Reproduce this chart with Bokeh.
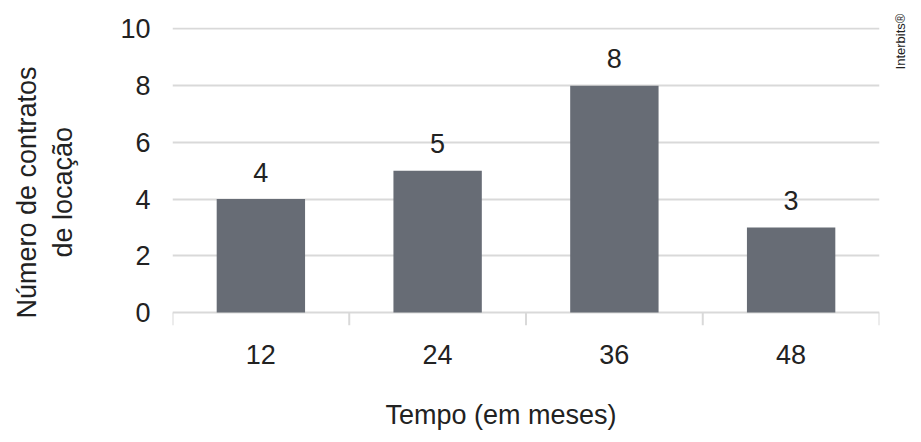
import math
from bokeh.plotting import figure
from bokeh.models import (ColumnDataSource, Range1d, FixedTicker, Title, Label,
                          CDSView, IndexFilter)
from bokeh.transform import dodge
from bokeh.core.properties import value
from bokeh.embed import file_html
from bokeh.resources import INLINE

categories = ["12", "24", "36", "48"]
contracts = [4, 5, 8, 3]
y_ticks = [0, 2, 4, 6, 8, 10]
x_title = "Tempo (em meses)"
y_title_lines = ["Número de contratos", "de locação"]
credit = "Interbits®"

FONT = "Liberation Sans"
TXT = "#222222"
GRID = "#d9d9d9"
BAR = "#676c75"

src = ColumnDataSource(dict(cat=categories, val=contracts,
                            lab=[str(v) for v in contracts],
                            base=[0] * len(categories)))

# frame extends 13 px below zero to hold the boundary tick marks
p = figure(x_range=categories, y_range=Range1d(-0.46, 10.05), width=913, height=434,
           output_backend="svg", toolbar_location=None,
           min_border_left=172, min_border_right=34, min_border_top=27,
           min_border_bottom=109)
p.outline_line_color = None
p.background_fill_color = "#ffffff"
p.border_fill_color = "#ffffff"

p.vbar(x="cat", top="val", bottom="base", width=0.5, source=src,
       fill_color=BAR, line_color=None)
p.text(x="cat", y="val", text="lab", source=src, y_offset=-27,
       text_align="center", text_baseline="alphabetic",
       text_font=value(FONT), text_font_size="27px", text_color=TXT)

# boundary ticks of the x axis
p.ray(x=dodge("cat", -0.5, range=p.x_range), y="base", source=src,
      length=13, length_units="screen", angle=-math.pi / 2,
      line_color=GRID, line_width=2)
p.ray(x=dodge("cat", 0.5, range=p.x_range), y="base", source=src,
      view=CDSView(filter=IndexFilter([len(categories) - 1])),
      length=13, length_units="screen", angle=-math.pi / 2,
      line_color=GRID, line_width=2)

# y axis
ya = p.yaxis[0]
ya.ticker = FixedTicker(ticks=y_ticks)
ya.axis_line_color = None
ya.major_tick_line_color = None
ya.minor_tick_line_color = None
ya.major_label_standoff = 16
ya.major_label_text_font = FONT
ya.major_label_text_font_size = "27px"
ya.major_label_text_color = TXT

p.ygrid.ticker = FixedTicker(ticks=y_ticks)
p.ygrid.grid_line_color = GRID
p.ygrid.grid_line_width = 2
p.xgrid.grid_line_color = None

# x axis
xa = p.xaxis[0]
xa.axis_line_color = None
xa.major_tick_line_color = None
xa.minor_tick_line_color = None
xa.major_label_standoff = 13
xa.major_label_text_font = FONT
xa.major_label_text_font_size = "27px"
xa.major_label_text_color = TXT

def spacer(px):
    # white 1px dot: only reserves room in the side panel
    return Title(text=".", text_font_size="1px", standoff=px, text_color="#ffffff")

p.add_layout(spacer(26), "below")
p.add_layout(Title(text=x_title, align="left", offset=213, standoff=4,
                   text_font=FONT, text_font_size="27px",
                   text_font_style="normal", text_color=TXT), "below")

# two-line y title (inner line first)
p.add_layout(spacer(32), "left")
p.add_layout(Title(text=y_title_lines[1], align="left", offset=68, standoff=9,
                   text_font=FONT, text_font_size="27px",
                   text_font_style="normal", text_color=TXT), "left")
p.add_layout(Title(text=y_title_lines[0], align="left", offset=7, standoff=0,
                   text_font=FONT, text_font_size="27px",
                   text_font_style="normal", text_color=TXT), "left")

p.add_layout(Label(x=21, y=284, x_units="screen", y_units="screen",
                   text=credit, angle=math.pi / 2,
                   text_align="center", text_baseline="middle",
                   text_font=FONT, text_font_size="13px", text_color=TXT), "right")

open("out.html", "w").write(file_html(p, INLINE))
